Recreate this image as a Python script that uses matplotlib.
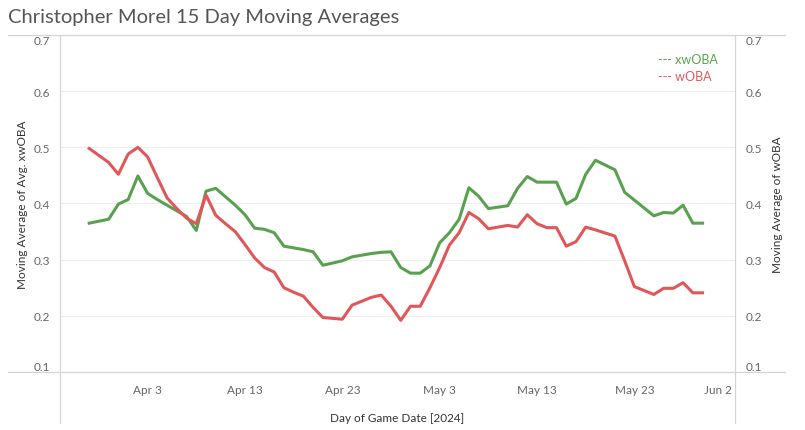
"""Christopher Morel 15 day moving averages: xwOBA vs wOBA (Tableau-style dual axis)."""
import matplotlib
matplotlib.use("Agg")
import matplotlib.pyplot as plt
import matplotlib.dates as mdates
import numpy as np
import pandas as pd
from matplotlib.lines import Line2D

# data (2024 season, game days only)
dates = ["03-28", "03-30", "03-31", "04-01", "04-02", "04-03", "04-04", "04-05",
         "04-06", "04-07", "04-08", "04-09", "04-10", "04-11", "04-12", "04-13",
         "04-14", "04-15", "04-16", "04-17", "04-18", "04-19", "04-20", "04-21",
         "04-23", "04-24", "04-26", "04-27", "04-28", "04-29", "04-30", "05-01",
         "05-02", "05-03", "05-04", "05-05", "05-06", "05-07", "05-08", "05-10",
         "05-11", "05-12", "05-13", "05-14", "05-15", "05-16", "05-17", "05-18",
         "05-19", "05-21", "05-22", "05-23", "05-25", "05-26", "05-27", "05-28",
         "05-29", "05-30"]
xwoba = [0.365, 0.372, 0.399, 0.407, 0.449, 0.418, 0.407, 0.397,
         0.387, 0.377, 0.352, 0.422, 0.427, 0.412, 0.397, 0.380,
         0.356, 0.354, 0.348, 0.324, 0.321, 0.318, 0.314, 0.290,
         0.298, 0.305, 0.311, 0.313, 0.314, 0.286, 0.276, 0.276,
         0.289, 0.330, 0.348, 0.372, 0.428, 0.413, 0.391, 0.396,
         0.427, 0.448, 0.438, 0.438, 0.438, 0.399, 0.409, 0.452,
         0.477, 0.460, 0.420, 0.406, 0.378, 0.384, 0.383, 0.397,
         0.365, 0.365]
woba = [0.498, 0.473, 0.452, 0.488, 0.500, 0.483, 0.446, 0.410,
        0.391, 0.374, 0.364, 0.415, 0.379, 0.364, 0.350, 0.327,
        0.303, 0.286, 0.278, 0.250, 0.242, 0.235, 0.215, 0.197,
        0.194, 0.219, 0.233, 0.237, 0.217, 0.192, 0.217, 0.217,
        0.250, 0.286, 0.326, 0.348, 0.384, 0.373, 0.355, 0.361,
        0.358, 0.380, 0.364, 0.357, 0.357, 0.324, 0.332, 0.358,
        0.353, 0.342, 0.298, 0.252, 0.238, 0.249, 0.249, 0.259,
        0.241, 0.241]
yticks = [0.1, 0.2, 0.3, 0.4, 0.5, 0.6, 0.7]
xtick_days = ["04-03", "04-13", "04-23", "05-03", "05-13", "05-23", "06-02"]

GREEN, RED = "#59a14f", "#e15759"
GREY_TXT, LINE = "#666666", "#d4d4d4"

plt.rcParams["font.family"] = ["Lato", "DejaVu Sans"]
t = pd.to_datetime(["2024-" + d for d in dates])

fig = plt.figure(figsize=(8.05, 4.31), dpi=100)
W, H = 805, 431
ax = fig.add_axes([60 / W, 1 - 373 / H, 675 / W, 337 / H])
ax2 = ax.twinx()

ax.plot(t, xwoba, color=GREEN, lw=2.2, solid_joinstyle="round", zorder=3)
ax2.plot(t, woba, color=RED, lw=2.2, solid_joinstyle="round", zorder=3)

for a in (ax, ax2):
    a.set_ylim(0.1, 0.7)
    a.set_yticks(yticks)
    a.set_yticklabels([f"{v:.1f}" for v in yticks])
    for s in a.spines.values():
        s.set_visible(False)
    a.tick_params(length=0, labelsize=8.5, colors=GREY_TXT)
ax.tick_params(axis="y", pad=7)
ax2.tick_params(axis="y", pad=8)
for a in (ax, ax2):
    labs = a.get_yticklabels()
    labs[0].set_va("bottom")
    labs[-1].set_va("top")

ax.grid(axis="y", color="#efefef", lw=0.8)
ax.set_axisbelow(True)
ax.set_xlim(pd.Timestamp("2024-03-25 00:00"), pd.Timestamp("2024-06-02 08:00"))
ax.set_xticks(pd.to_datetime(["2024-" + d for d in xtick_days]))
ax.xaxis.set_major_formatter(mdates.DateFormatter("%b %-d"))
ax.tick_params(axis="x", pad=9)
xl = ax.get_xticklabels()
xl[-1].set_ha("right")

ax.set_ylabel("Moving Average of Avg. xwOBA", fontsize=8.5, color="#333333", labelpad=4)
ax2.set_ylabel("Moving Average of wOBA", fontsize=8.5, color="#333333", labelpad=7)
ax.set_xlabel("Day of Game Date [2024]", fontsize=8.5, color="#333333", labelpad=12)

# panel borders
for y in (36, 373):
    fig.add_artist(Line2D([8 / W, 785 / W], [1 - y / H, 1 - y / H], color=LINE, lw=0.9))
for x in (60, 735):
    fig.add_artist(Line2D([x / W, x / W], [1 - 36 / H, 1 - 424 / H], color=LINE, lw=0.9))

# legend as coloured text
fig.text(658 / W, 1 - 60 / H, "--- xwOBA", color=GREEN, fontsize=9, va="center")
fig.text(658 / W, 1 - 77 / H, "--- wOBA", color=RED, fontsize=9, va="center")

fig.text(8 / W, 1 - 18 / H, "Christopher Morel 15 Day Moving Averages",
         fontsize=14.5, color="#555555", va="center")

fig.savefig("out.png", dpi=100)
